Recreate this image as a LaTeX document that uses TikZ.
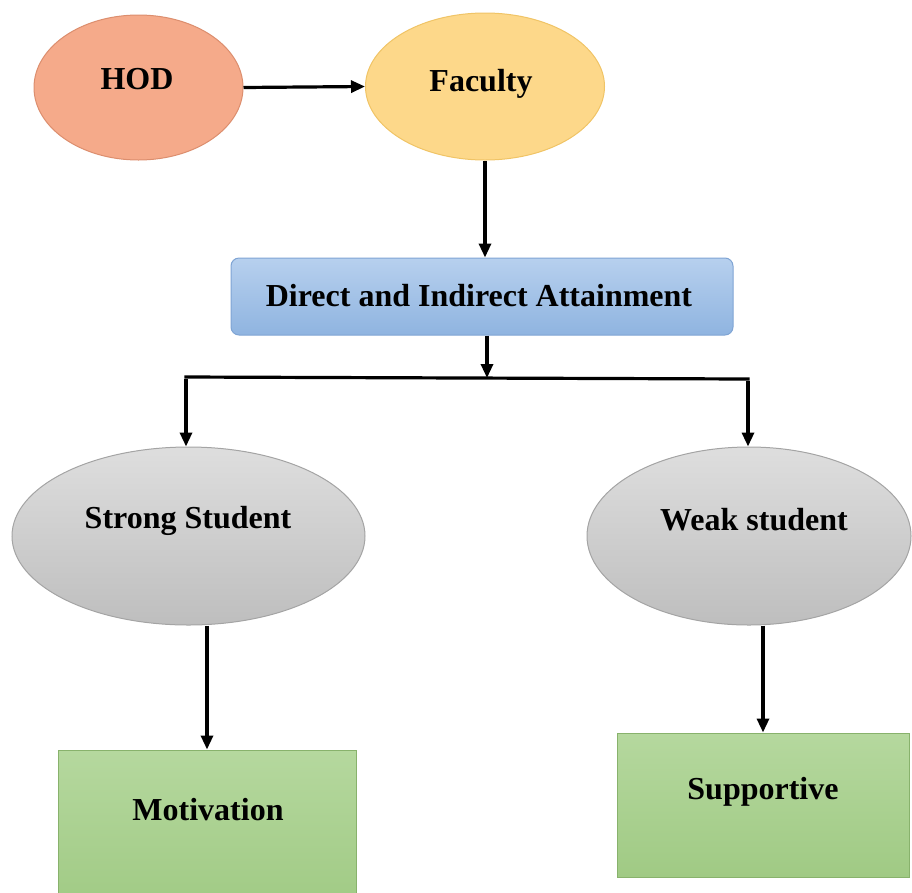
\documentclass[tikz,border=0pt]{standalone}
\usepackage{fontspec}
\setmainfont{Liberation Serif}
\usetikzlibrary{arrows.meta,shapes.geometric}
\definecolor{hodfill}{HTML}{F5AA8A}
\definecolor{hoddraw}{HTML}{DC8E6E}
\definecolor{facfill}{HTML}{FDD88A}
\definecolor{facdraw}{HTML}{F0C466}
\definecolor{bluetop}{HTML}{B7D0EE}
\definecolor{bluebot}{HTML}{8FB4E0}
\definecolor{bluedraw}{HTML}{7FA4D4}
\definecolor{graytop}{HTML}{DEDEDE}
\definecolor{graybot}{HTML}{BEBEBE}
\definecolor{graydraw}{HTML}{A4A4A4}
\definecolor{greentop}{HTML}{B5D89E}
\definecolor{greenbot}{HTML}{A0CA84}
\definecolor{greendraw}{HTML}{88B26C}
\tikzset{
  every node/.style={font=\fontsize{32}{38}\selectfont\bfseries},
  oval/.style={ellipse, line width=1pt, inner sep=0pt},
  greybox/.style={oval, draw=graydraw, top color=graytop, bottom color=graybot},
  greenbox/.style={rectangle, line width=1pt, draw=greendraw, top color=greentop, bottom color=greenbot, inner sep=0pt},
  arr/.style={line width=3.2pt, -{Triangle[length=14pt,width=12pt]}},
  link/.style={line width=3.2pt},
  lbl/.style={inner sep=0pt}
}
\begin{document}
\begin{tikzpicture}[x=1pt,y=-1pt]
\useasboundingbox (0,0) rectangle (912,892);
\begin{scope}
\clip (0,0) rectangle (912,892);
% top ellipses
\node[oval, draw=hoddraw, fill=hodfill, minimum width=209pt, minimum height=145pt] (hod) at (138.5,87.5) {};
\node[lbl] at (137,79) {HOD};
\node[oval, draw=facdraw, fill=facfill, minimum width=239pt, minimum height=147pt] (fac) at (485,86.5) {};
\node[lbl] at (481,84) {Faculty};
% attainment box
\node[rectangle, rounded corners=8pt, line width=1pt, draw=bluedraw, top color=bluetop, bottom color=bluebot, minimum width=502pt, minimum height=77pt, inner sep=0pt] (att) at (482,296.5) {};
\node[lbl] at (479,296) {Direct and Indirect Attainment};
% students
\node[greybox, minimum width=353pt, minimum height=178pt] (strong) at (188.5,536) {};
\node[lbl] at (188,521) {Strong Student};
\node[greybox, minimum width=324pt, minimum height=178pt] (weak) at (749,536) {};
\node[lbl] at (754,520) {Weak student};
% outcomes
\node[greenbox, minimum width=298pt, minimum height=160pt] (mot) at (207,830) {};
\node[lbl] at (208,810) {Motivation};
\node[greenbox, minimum width=292pt, minimum height=144pt] (sup) at (763,805) {};
\node[lbl] at (763,792) {Supportive};
\end{scope}
% junction
\coordinate (j) at (487,378);
\coordinate (jl) at (186,377);
\coordinate (jr) at (748,379);
% connectors
\draw[arr] (hod.east) -- (fac.west);
\draw[arr] (fac.south) -- (fac.south |- att.north);
\draw[arr] (att.south -| j) -- (j);
\draw[link] ([xshift=-1.6pt]jl) -- ([xshift=1.6pt]jr);
\draw[arr] ([yshift=-1.6pt]jl) -- (jl |- strong.north);
\draw[arr] ([yshift=-1.6pt]jr) -- (jr |- weak.north);
\draw[arr] (strong.south -| mot.north) -- (mot.north);
\draw[arr] (weak.south -| sup.north) -- (sup.north);
\end{tikzpicture}
\end{document}
